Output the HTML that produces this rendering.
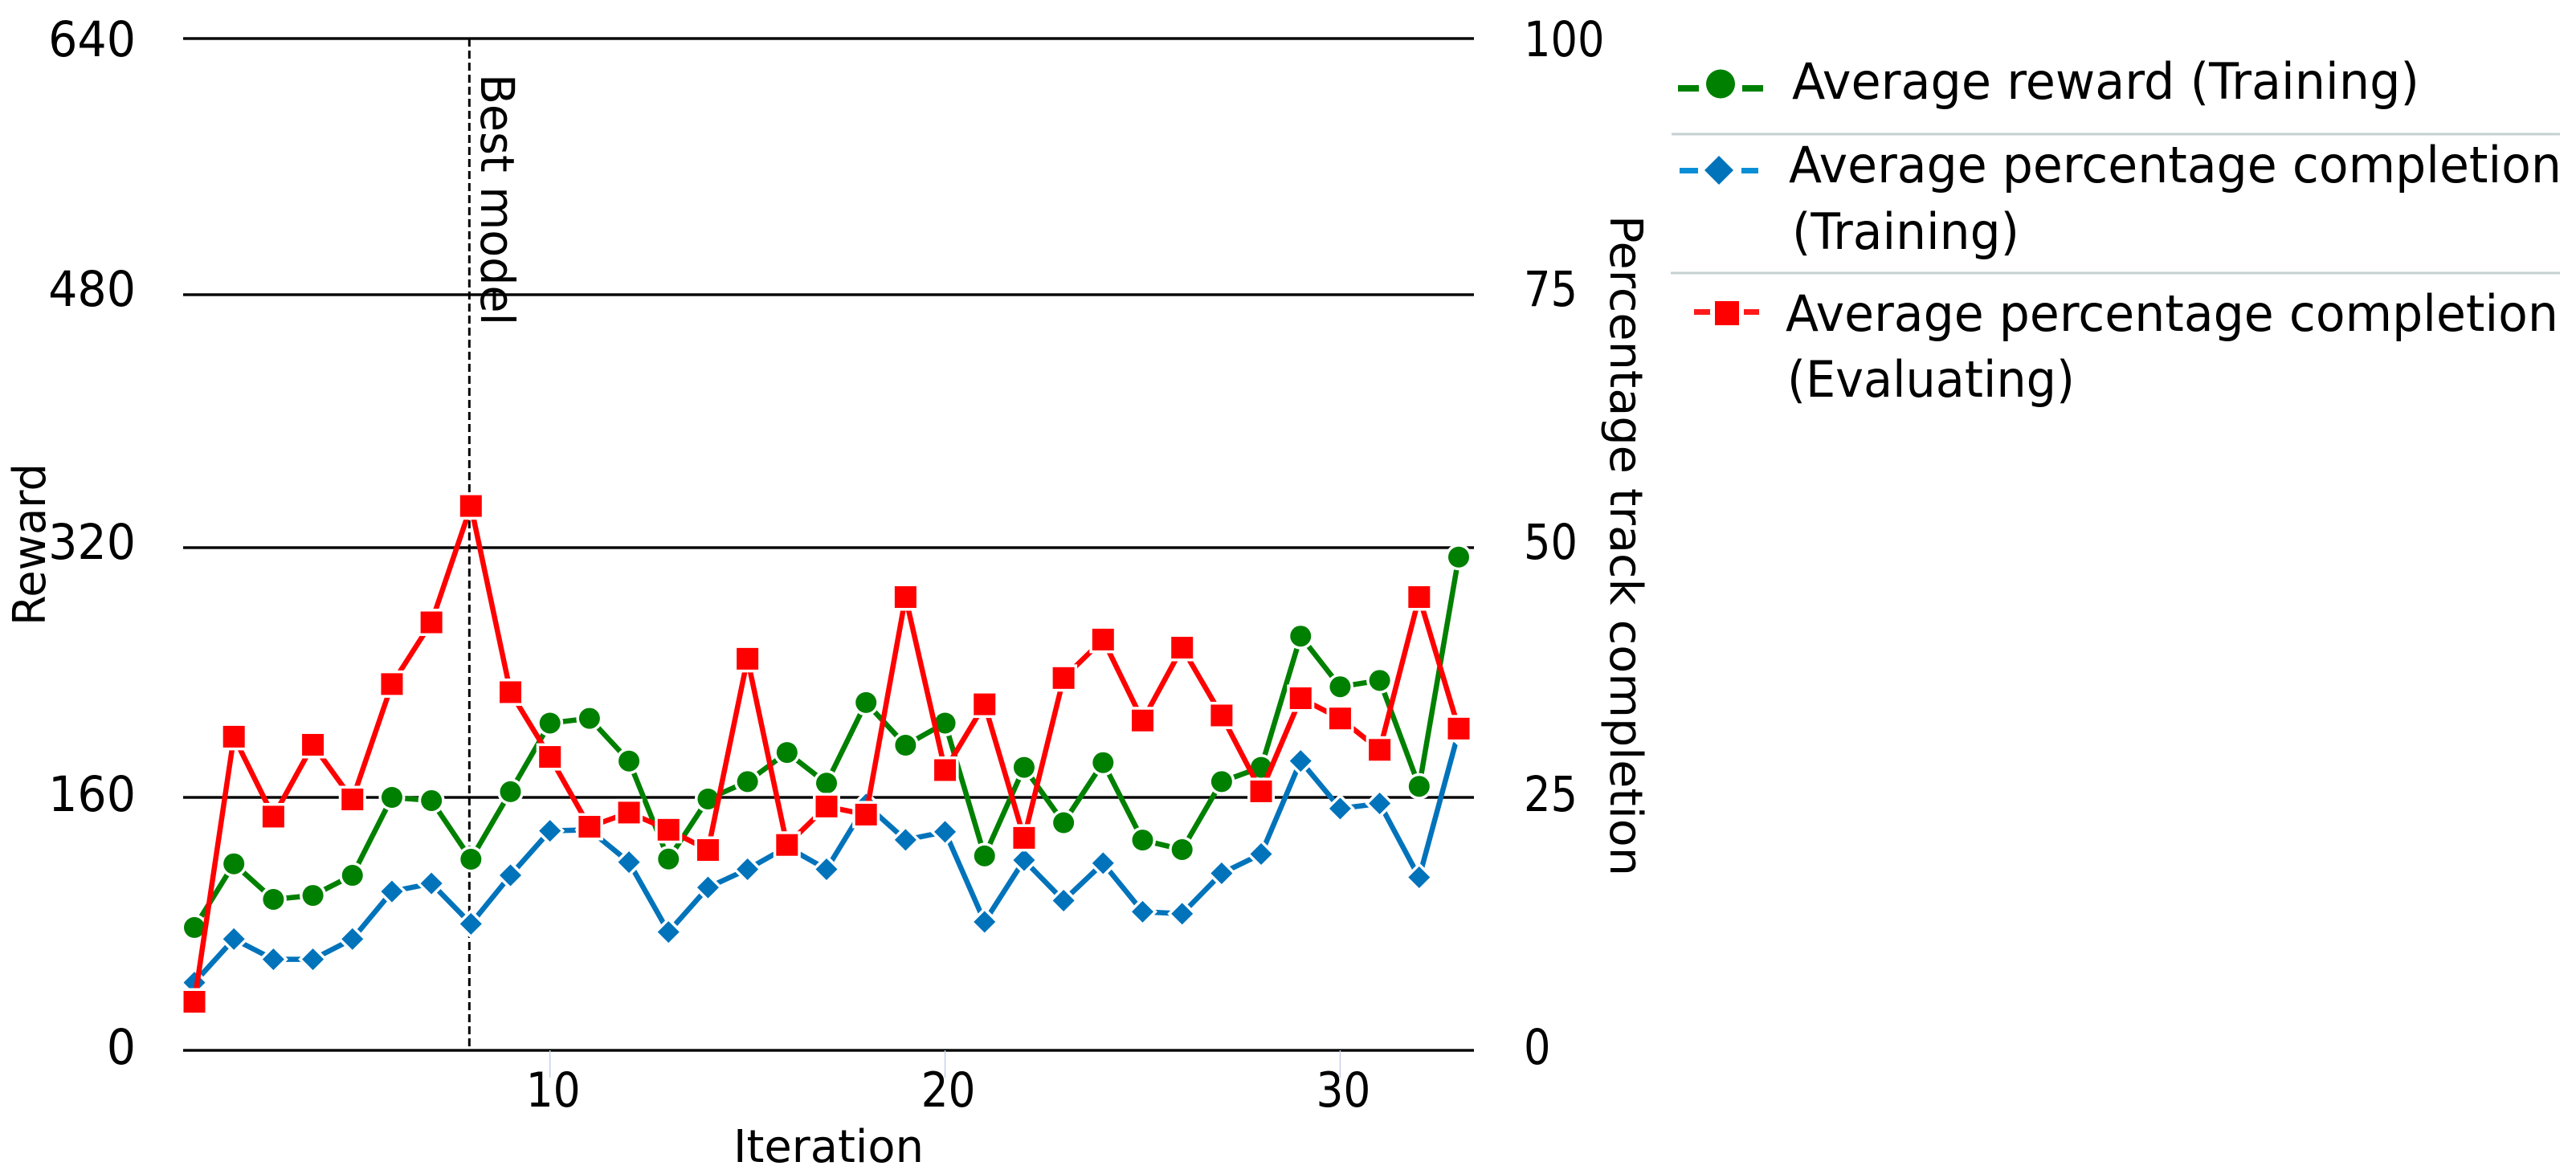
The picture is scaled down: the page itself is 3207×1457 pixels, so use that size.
<!DOCTYPE html>
<html lang="en">
<head>
<meta charset="utf-8">
<title>Training reward and track completion chart</title>
<style>
html,body{margin:0;padding:0;background:#fff;}
svg{display:block;}
text{font-family:"DejaVu Sans","Liberation Sans",sans-serif;fill:#000;}
</style>
</head>
<body>
<svg id="chart" xmlns="http://www.w3.org/2000/svg" width="3207" height="1457" viewBox="0 0 3207 1457">
  <rect x="0" y="0" width="3207" height="1457" fill="#ffffff"/>
  <g id="grid"></g>
  <g id="xticks"></g>
  <g id="lefty"></g>
  <g id="righty"></g>
  <g id="bestline"></g>
  <g id="series"></g>

  <text x="913" y="1447" font-size="56" textLength="237" lengthAdjust="spacingAndGlyphs">Iteration</text>
  <text transform="translate(56,779) rotate(-90)" font-size="56" textLength="202" lengthAdjust="spacingAndGlyphs">Reward</text>
  <text transform="translate(2005,268) rotate(90)" font-size="56" textLength="823" lengthAdjust="spacingAndGlyphs">Percentage track completion</text>
  <text transform="translate(599,92) rotate(90)" font-size="58" textLength="313" lengthAdjust="spacingAndGlyphs">Best model</text>

  <g>
    <g>
      <rect x="2089" y="106" width="26" height="8" fill="#008000"/>
      <rect x="2169" y="106" width="26" height="8" fill="#008000"/>
      <circle cx="2142" cy="104.5" r="18" fill="#008000"/>
      <text x="2231" y="123" font-size="62" textLength="781" lengthAdjust="spacingAndGlyphs">Average reward (Training)</text>
    </g>
    <rect x="2081" y="165.5" width="1106" height="3" fill="#c5d0d0"/>
    <g>
      <rect x="2091" y="209" width="23" height="7" fill="#0a8fd6"/>
      <rect x="2168" y="209" width="21" height="7" fill="#0a8fd6"/>
      <polygon points="2140,194 2158,212 2140,230 2122,212" fill="#0073bb"/>
      <text x="2227" y="227" font-size="62" textLength="962" lengthAdjust="spacingAndGlyphs">Average percentage completion</text>
      <text x="2231" y="310" font-size="62" textLength="283" lengthAdjust="spacingAndGlyphs">(Training)</text>
    </g>
    <rect x="2080" y="338.5" width="1107" height="3" fill="#c5d0d0"/>
    <g>
      <rect x="2109" y="385" width="20" height="7" fill="#ff1a1a"/>
      <rect x="2171" y="385" width="19" height="7" fill="#ff1a1a"/>
      <rect x="2135" y="375" width="30" height="30" fill="#ff0000"/>
      <text x="2223" y="412" font-size="62" textLength="962" lengthAdjust="spacingAndGlyphs">Average percentage completion</text>
      <text x="2225" y="494" font-size="62" textLength="358" lengthAdjust="spacingAndGlyphs">(Evaluating)</text>
    </g>
  </g>
</svg>
<script>
const iterations = [1,2,3,4,5,6,7,8,9,10,11,12,13,14,15,16,17,18,19,20,21,22,23,24,25,26,27,28,29,30,31,32,33];
const rewardTraining = [77.7,118,95.5,98,110.7,160,158,120.9,163.6,207,210,183,121,159,170,188.4,169,220,193,207,123,179,144,182,133,127,170,179,262,230,234,167,312];
const completionTraining = [6.7,11.0,9.0,9.0,11.0,15.7,16.5,12.5,17.3,21.7,21.8,18.6,11.7,16.1,17.9,20.1,17.9,24.3,20.8,21.6,12.7,18.8,14.8,18.5,13.7,13.5,17.5,19.4,28.6,23.9,24.4,17.1,31.5];
const completionEvaluating = [4.8,31.0,23.1,30.2,24.8,36.2,42.3,53.8,35.4,29.0,22.1,23.5,21.8,19.8,38.7,20.3,24.1,23.3,44.8,27.7,34.2,21.0,36.8,40.6,32.6,39.8,33.1,25.6,34.8,32.8,29.7,44.8,31.8];
const rewardTicks = [0,160,320,480,640];
const completionTicks = [0,25,50,75,100];
const xTicks = [10,20,30];
const bestModelIteration = 8;

const NS = 'http://www.w3.org/2000/svg';
const plotLeft = 228, plotRight = 1835, plotTop = 48, plotBottom = 1308;
function xScale(i){ return 242 + (i - 1) * (1816 - 242) / 32; }
function yReward(v){ return plotBottom - v / 640 * (plotBottom - plotTop); }
function yCompletion(v){ return plotBottom - v / 100 * (plotBottom - plotTop); }
/* The source image is slightly unevenly resampled: the two middle gridlines sit a few pixels low. */
function gridY(v){ return yReward(v) + ((v === 320 || v === 480) ? 4 : 0); }
function labelY(y){ return Math.max(70, y + 17); }
function make(tag, attrs, parent){
  const e = document.createElementNS(NS, tag);
  for (const k in attrs) e.setAttribute(k, attrs[k]);
  parent.appendChild(e);
  return e;
}

const grid = document.getElementById('grid');
rewardTicks.forEach(function(v){
  const line = make('line', {x1: plotLeft, x2: plotRight, y1: gridY(v), y2: gridY(v), stroke: '#0a0a0a', 'stroke-width': 3.5}, grid);
  
  
});

const xt = document.getElementById('xticks');
xTicks.forEach(function(v){
  const tick = make('line', {x1: xScale(v), x2: xScale(v), y1: plotBottom, y2: 1342, stroke: '#c5d0ea', 'stroke-width': 1.5}, xt);
  
  
  const label = make('text', {x: xScale(v) + 4 - 34, y: 1378, 'font-size': 60, textLength: 68, lengthAdjust: 'spacingAndGlyphs'}, xt);
  
  
  label.textContent = v;
});

const ly = document.getElementById('lefty');
rewardTicks.forEach(function(v){
  const w = String(v).length * 36.3;
  const label = make('text', {x: 169 - w, y: labelY(gridY(v) - ((v === 320 || v === 480) ? 3 : 0)), 'font-size': 61, textLength: w, lengthAdjust: 'spacingAndGlyphs'}, ly);
  
  
  label.textContent = v;
});

const ry = document.getElementById('righty');
completionTicks.forEach(function(v){
  const w = String(v).length * 33.5;
  const label = make('text', {x: 1897, y: labelY(gridY(v * 6.4) - ((v === 50 || v === 75) ? 3 : 0)), 'font-size': 61, textLength: w, lengthAdjust: 'spacingAndGlyphs'}, ry);
  
  
  label.textContent = v;
});

const best = document.getElementById('bestline');
const bestLine = make('line', {x1: xScale(bestModelIteration) - 2, x2: xScale(bestModelIteration) - 2, y1: plotTop, y2: plotBottom, stroke: '#000', 'stroke-width': 3, 'stroke-dasharray': '10 5'}, best);



function drawLine(values, yFn, color, name){
  const group = document.getElementById('series');
  const pts = values.map(function(v, i){ return xScale(iterations[i]) + ',' + yFn(v); }).join(' ');
  const line = make('polyline', {points: pts, fill: 'none', stroke: color, 'stroke-width': 6.5, 'stroke-linejoin': 'round'}, group);
  
  
}
function markerStyle(color){
  return {fill: color, stroke: '#ffffff', 'stroke-width': 7, 'paint-order': 'stroke'};
}
function drawCircles(values, yFn, color, name){
  const group = document.getElementById('series');
  values.forEach(function(v, i){
    const a = markerStyle(color);
    a.cx = xScale(iterations[i]); a.cy = yFn(v); a.r = 13;
    const m = make('circle', a, group);
    
    
  });
}
function drawDiamonds(values, yFn, color, name){
  const group = document.getElementById('series');
  values.forEach(function(v, i){
    const a = markerStyle(color);
    const cx = xScale(iterations[i]), cy = yFn(v), h = 13.5;
    a.points = cx + ',' + (cy - h) + ' ' + (cx + h) + ',' + cy + ' ' + cx + ',' + (cy + h) + ' ' + (cx - h) + ',' + cy;
    const m = make('polygon', a, group);
    
    
  });
}
function drawSquares(values, yFn, color, name){
  const group = document.getElementById('series');
  values.forEach(function(v, i){
    const a = markerStyle(color);
    a.x = xScale(iterations[i]) - 13.5; a.y = yFn(v) - 13.5; a.width = 27; a.height = 27;
    const m = make('rect', a, group);
    
    
  });
}

drawLine(rewardTraining, yReward, '#008000', 'reward-training');
drawCircles(rewardTraining, yReward, '#008000', 'reward-training');
drawLine(completionTraining, yCompletion, '#0073bb', 'completion-training');
drawDiamonds(completionTraining, yCompletion, '#0073bb', 'completion-training');
drawLine(completionEvaluating, yCompletion, '#ff0000', 'completion-evaluating');
drawSquares(completionEvaluating, yCompletion, '#ff0000', 'completion-evaluating');
</script>
</body>
</html>
